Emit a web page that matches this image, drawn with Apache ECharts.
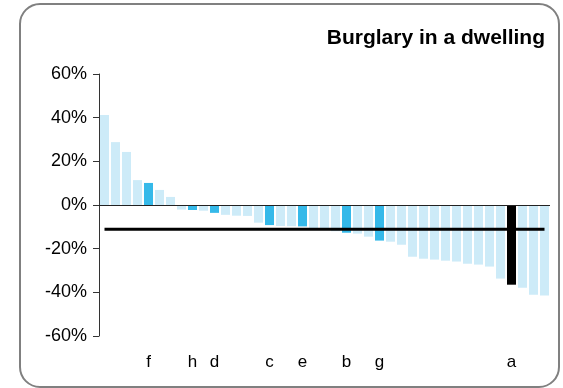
<!DOCTYPE html>
<html>
<head>
<meta charset="utf-8">
<script src="https://cdn.jsdelivr.net/npm/echarts@6/dist/echarts.min.js"></script>
<style>
html,body{margin:0;padding:0;background:#fff;}
#chart{width:563px;height:388px;}
</style>
</head>
<body>
<div id="chart"></div>
<script>
var categories = ['', '', '', '', 'f', '', '', '', 'h', '', 'd', '', '', '', '', 'c', '', '', 'e', '', '', '', 'b', '', '', 'g', '', '', '', '', '', '', '', '', '', '', '', 'a', '', '', ''];
var values = [41.2, 28.8, 24.3, 11.4, 10.1, 6.9, 3.7, -2.1, -2.3, -2.6, -3.6, -4.5, -4.9, -5.0, -8.1, -9.2, -9.6, -9.7, -9.8, -10.6, -11.0, -12.0, -12.7, -13.1, -14.5, -16.3, -16.8, -18.2, -23.7, -24.6, -25.0, -25.5, -25.9, -26.9, -27.3, -28.2, -33.7, -36.5, -37.9, -41.1, -41.5];
var meanValue = -11.1;
var yTicks = [-60, -40, -20, 0, 20, 40, 60];
var selectedLabel = 'a';

var meanLine = categories.map(function () { return meanValue; });

var chart = echarts.init(document.getElementById('chart'), null, {renderer: 'canvas'});
var font = 'Liberation Sans, Arial, sans-serif';
chart.setOption({
  animation: false,
  textStyle: {fontFamily: font},
  graphic: [{
    type: 'rect',
    shape: {x: 20, y: 4, width: 539, height: 383, r: 20},
    style: {fill: 'none', stroke: '#808080', lineWidth: 2},
    silent: true
  }],
  title: {
    text: 'Burglary in a dwelling',
    right: 13,
    top: 23,
    textStyle: {fontFamily: font, fontWeight: 'bold', fontSize: 21, color: '#000'}
  },
  grid: {left: 99, right: 13, top: 74, bottom: 52, containLabel: false},
  xAxis: {
    type: 'category',
    data: categories,
    axisLine: {show: false, onZero: false},
    axisTick: {show: false},
    axisLabel: {interval: 0, fontSize: 17, color: '#000', margin: 18, fontFamily: font},
    splitLine: {show: false}
  },
  yAxis: {
    type: 'value',
    min: yTicks[0],
    max: yTicks[yTicks.length - 1],
    interval: 20,
    axisLine: {show: true, lineStyle: {color: '#333', width: 1}},
    axisTick: {show: true, length: 6, lineStyle: {color: '#333'}},
    axisLabel: {formatter: '{value}%', fontSize: 18, color: '#000', margin: 12, fontFamily: font},
    splitLine: {show: false}
  },
  series: [{
    type: 'bar',
    data: values,
    barWidth: '82%',
    itemStyle: {
      color: function (p) {
        var c = categories[p.dataIndex];
        if (c === selectedLabel) return '#000000';
        if (c !== '') return '#35b9e9';
        return '#cdebf8';
      }
    },
    markLine: {
      silent: true,
      symbol: 'none',
      label: {show: false},
      lineStyle: {color: '#222', width: 1, type: 'solid'},
      data: [{yAxis: 0}]
    },
    z: 2
  }, {
    type: 'line',
    data: meanLine,
    symbol: 'none',
    lineStyle: {color: '#000', width: 3},
    z: 3
  }]
});
</script>
</body>
</html>
